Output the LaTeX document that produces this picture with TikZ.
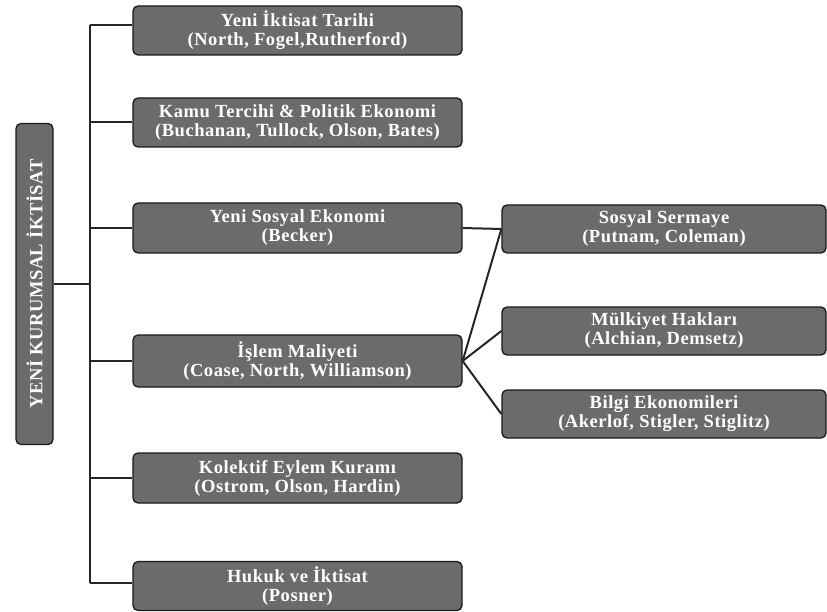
\documentclass[tikz,border=0pt]{standalone}
\usepackage{fontspec}
\setmainfont{Liberation Serif}
\newfontfamily\boxfont[LetterSpace=3]{Liberation Serif}
\begin{document}
\begin{tikzpicture}[x=1pt,y=-1pt,
  box/.style={draw=black!90, line width=1.3pt, fill=black!58, rounded corners=5pt,
    text=white, font=\boxfont\bfseries\fontsize{18.5}{19}\selectfont, align=center,
    inner sep=0pt},
  leftbox/.style={box, minimum width=329pt},
  rightbox/.style={box, minimum width=324pt, minimum height=48pt},
  link/.style={draw=black!85, line width=2pt}]
\useasboundingbox (0,0) rectangle (827,612);

% root of the tree, set vertically
\node[box, minimum width=37pt, minimum height=321pt] (root) at (34.5,284) {};
\node[rotate=90, text=white, font=\boxfont\bfseries\fontsize{18.5}{18}\selectfont] (roottext) at (root.center) {YENİ KURUMSAL İKTİSAT};

% first-level branches
\node[leftbox, minimum height=49pt] (b1) at (297.5,30.5) {Yeni İktisat Tarihi\\(North, Fogel,Rutherford)};
\node[leftbox, minimum height=49pt] (b2) at (297.5,122.5) {Kamu Tercihi \& Politik Ekonomi\\(Buchanan, Tullock, Olson, Bates)};
\node[leftbox, minimum height=50pt] (b3) at (297.5,228) {Yeni Sosyal Ekonomi\\(Becker)};
\node[leftbox, minimum height=52pt] (b4) at (297.5,361) {İşlem Maliyeti\\(Coase, North, Williamson)};
\node[leftbox, minimum height=50pt] (b5) at (297.5,478) {Kolektif Eylem Kuramı\\(Ostrom, Olson, Hardin)};
\node[leftbox, minimum height=49pt] (b6) at (297.5,586) {Hukuk ve İktisat\\(Posner)};

% second-level branches
\node[rightbox] (r1) at (664,229) {Sosyal Sermaye\\(Putnam, Coleman)};
\node[rightbox] (r2) at (664,331) {Mülkiyet Hakları\\(Alchian, Demsetz)};
\node[rightbox] (r3) at (664,414) {Bilgi Ekonomileri\\(Akerlof, Stigler, Stiglitz)};

% vertical bus
\coordinate (bustop) at (90,25);
\coordinate (busbot) at (90,583);
\coordinate (busmid) at (90,284);

\draw[link] (bustop) -- (busbot);
\draw[link] (root.east |- busmid) -- (busmid);
\draw[link] (bustop) -- (b1.west |- bustop);
\draw[link] (b2.west -| bustop) -- (b2.west);
\draw[link] (b3.west -| bustop) -- (b3.west);
\draw[link] (b4.west -| bustop) -- (b4.west);
\draw[link] (b5.west -| bustop) -- (b5.west);
\draw[link] (busbot) -- (b6.west |- busbot);

% links to the second level
\draw[link] (b3.east) -- (r1.west);
\draw[link] (b4.east) -- (r1.west);
\draw[link] (b4.east) -- (r2.west);
\draw[link] (b4.east) -- (r3.west);
\end{tikzpicture}
\end{document}
